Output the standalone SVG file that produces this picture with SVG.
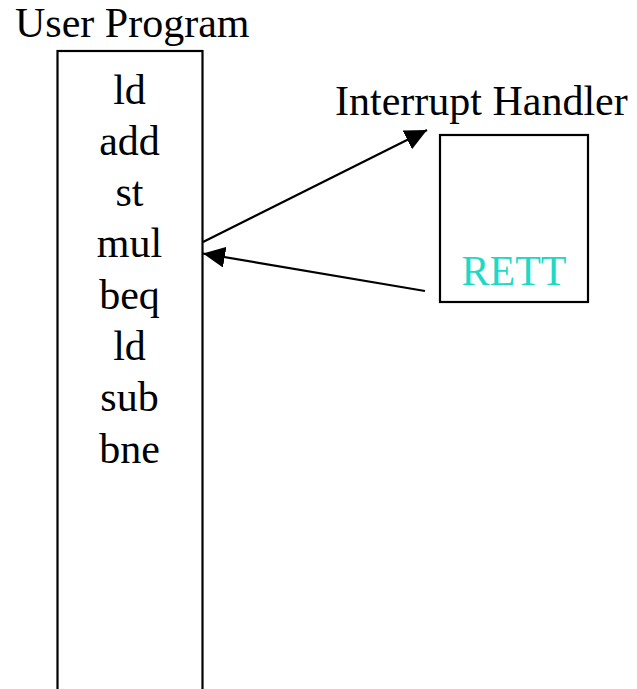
<svg xmlns="http://www.w3.org/2000/svg" width="637" height="689" viewBox="0 0 637 689">
  <style>
    .box { fill: #ffffff; stroke: #000000; stroke-width: 2.2; }
    .lbl { font-family: "Liberation Serif", "Times New Roman", serif; font-size: 42px; fill: #000000; }
    .mid { text-anchor: middle; }
    .rett { fill: #1ED9C6; }
    .edge { fill: none; stroke: #000000; stroke-width: 2.2; marker-end: url(#head); }
  </style>
  <defs>
    <marker id="head" markerUnits="userSpaceOnUse" markerWidth="24" markerHeight="22" refX="22" refY="10.5" orient="auto">
      <path d="M0,0 L22,10.5 L0,21 Z" fill="#000000"/>
    </marker>
  </defs>
  <rect width="637" height="689" fill="#ffffff"/>

  <!-- user program listing -->
  <g id="user-program">
    <text class="lbl" x="15" y="37">User Program</text>
    <rect class="box" x="57.5" y="51" width="145" height="660"/>
    <text class="lbl mid" x="129.5" y="103.5">ld</text>
    <text class="lbl mid" x="129.5" y="154.8">add</text>
    <text class="lbl mid" x="129.5" y="206.1">st</text>
    <text class="lbl mid" x="129.5" y="257.4">mul</text>
    <text class="lbl mid" x="129.5" y="308.7">beq</text>
    <text class="lbl mid" x="129.5" y="360">ld</text>
    <text class="lbl mid" x="129.5" y="411.3">sub</text>
    <text class="lbl mid" x="129.5" y="462.6">bne</text>
  </g>

  <!-- interrupt handler routine -->
  <g id="interrupt-handler">
    <text class="lbl" x="335" y="115">Interrupt Handler</text>
    <rect class="box" x="440" y="135" width="148" height="167"/>
    <text class="lbl mid rett" x="514" y="285">RETT</text>
  </g>

  <!-- control transfer arrows -->
  <g id="connectors">
    <line class="edge" x1="203" y1="242" x2="427" y2="130"/>
    <line class="edge" x1="425" y1="291" x2="203" y2="253.5"/>
  </g>
</svg>
